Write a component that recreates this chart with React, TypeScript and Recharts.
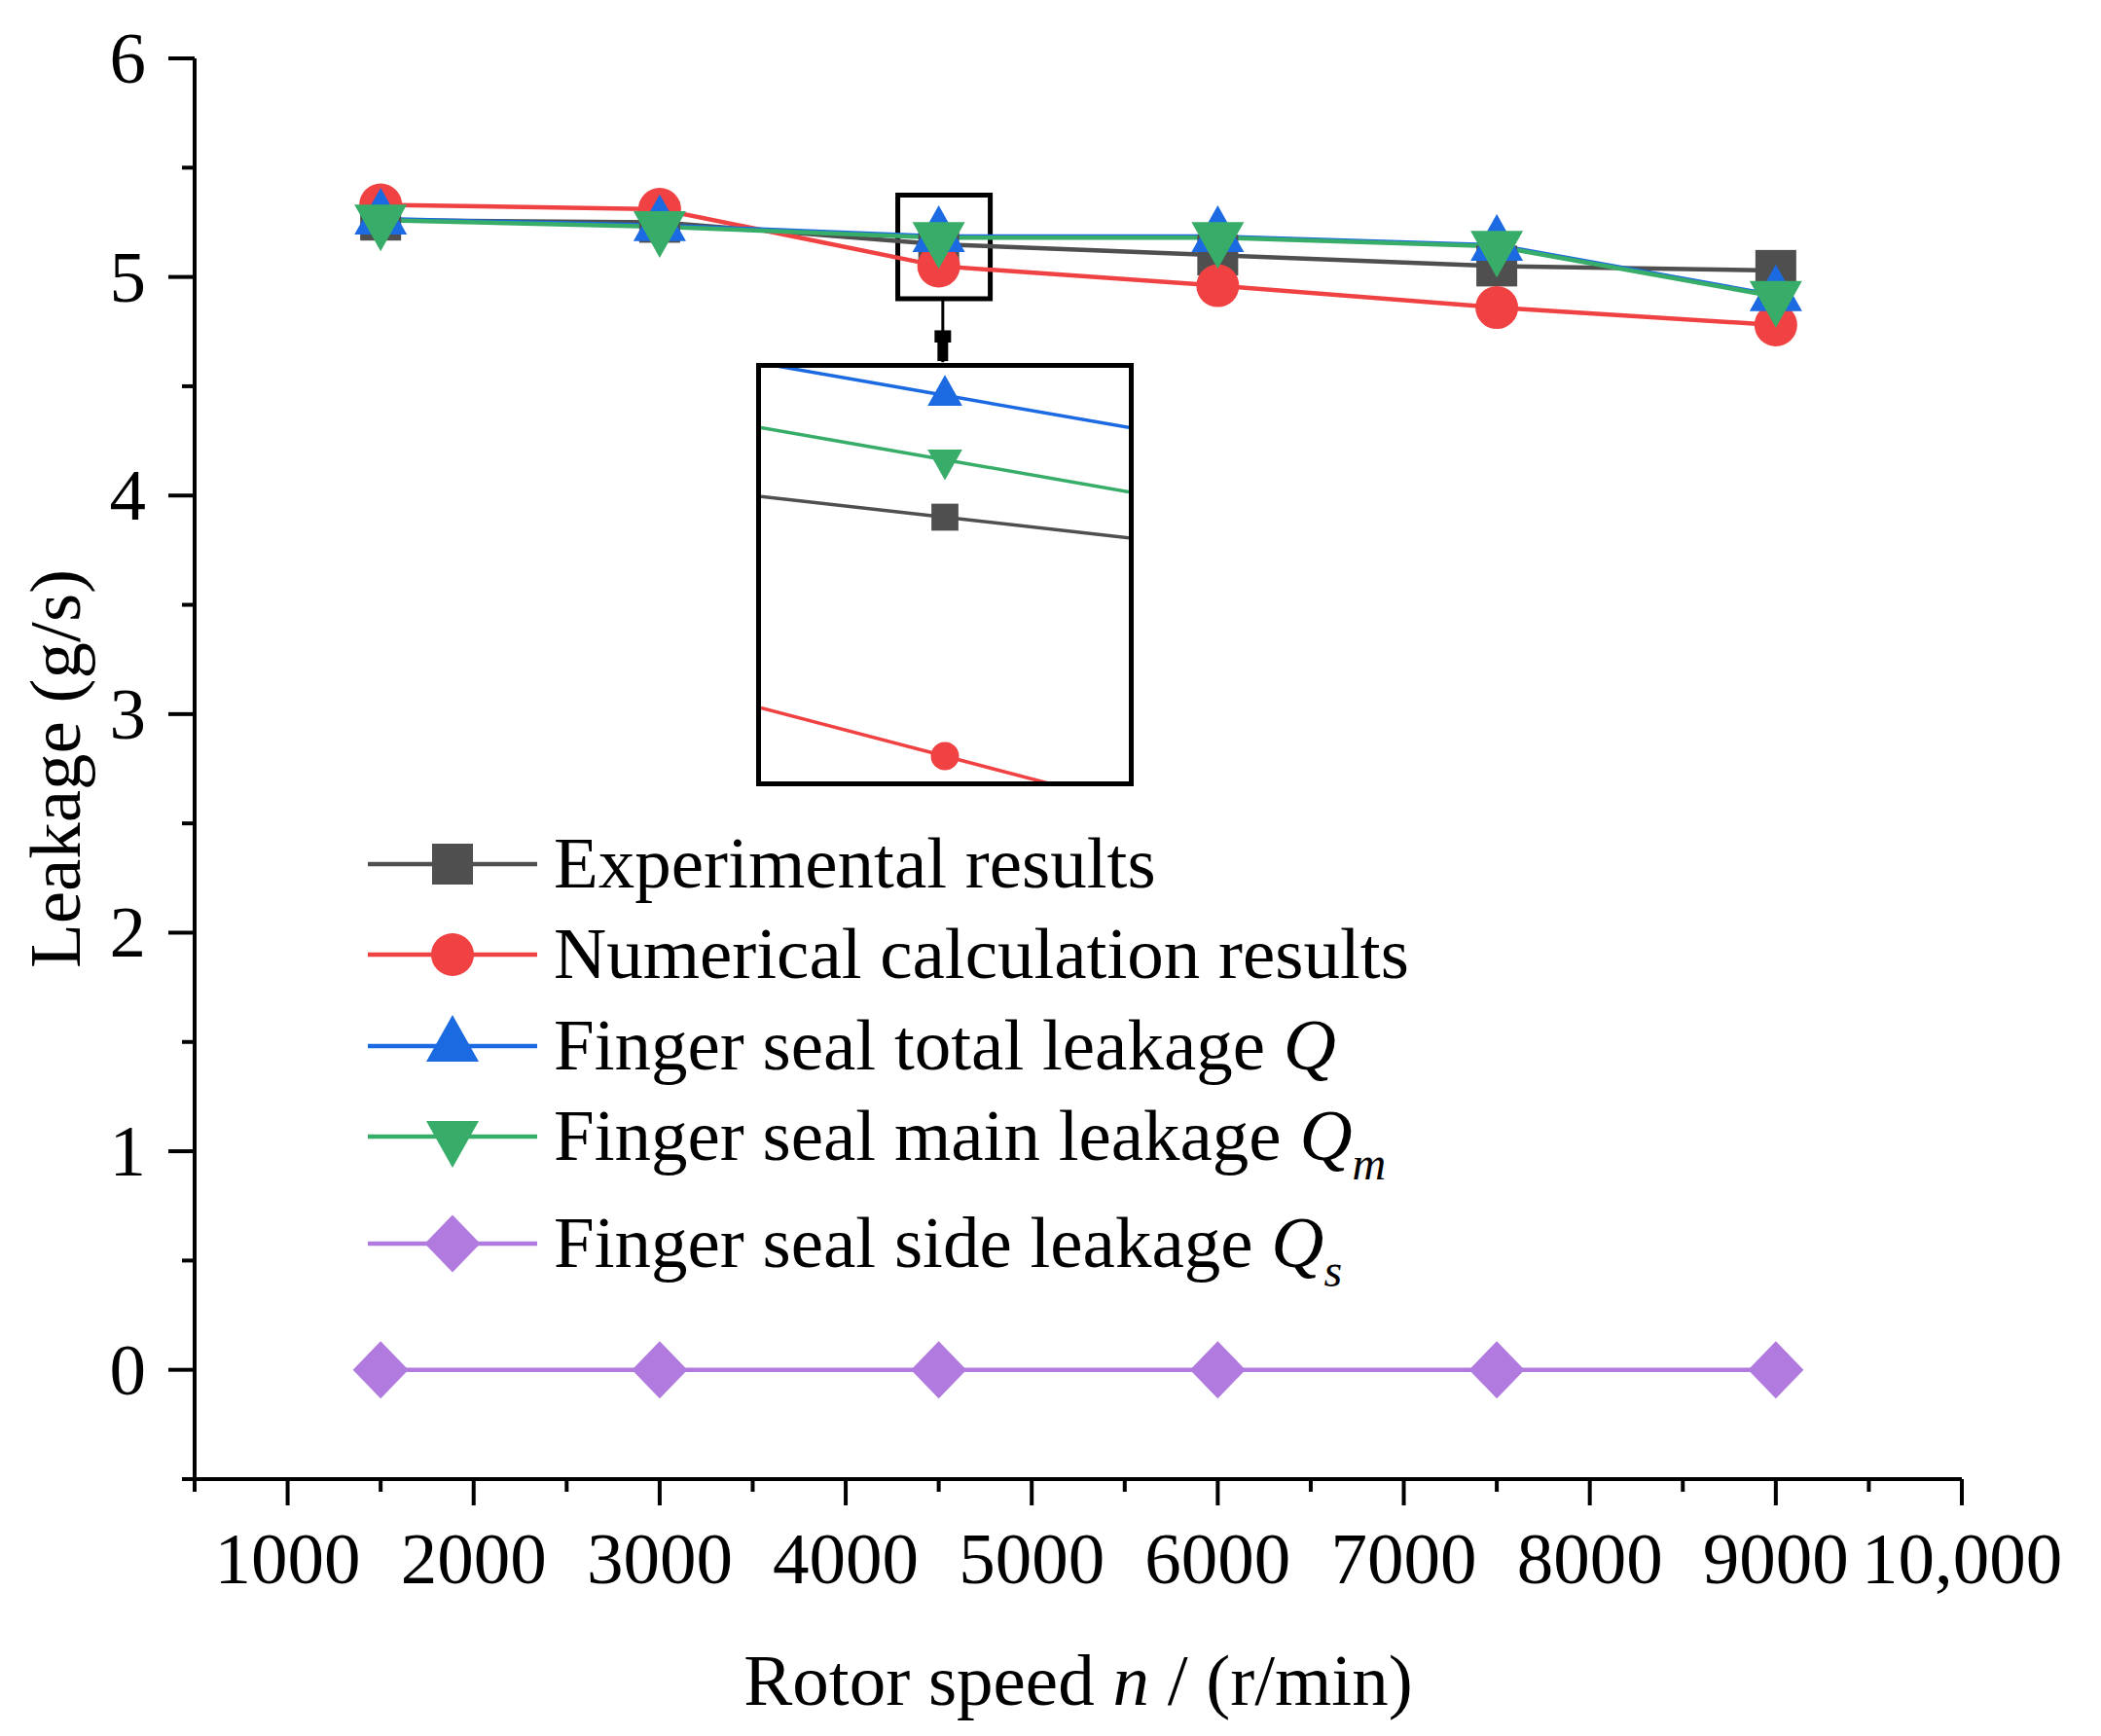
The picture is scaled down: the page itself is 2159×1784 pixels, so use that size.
import React from "react";
import {
  LineChart,
  Line,
  XAxis,
  YAxis,
  ReferenceArea,
  ReferenceLine,
} from "recharts";

// rotor speed (r/min)
const speeds = [1500, 3000, 4500, 6000, 7500, 9000];

// leakage (g/s)
const experimental = [5.26, 5.25, 5.15, 5.1, 5.05, 5.03];
const numerical = [5.33, 5.31, 5.05, 4.96, 4.86, 4.78];
const totalQ = [5.265, 5.235, 5.185, 5.185, 5.145, 4.915];
const mainQm = [5.26, 5.23, 5.18, 5.18, 5.14, 4.91];
const sideQs = [0, 0, 0, 0, 0, 0];

// zoomed inset around 4500 r/min
const insetSpeeds = [4250, 4500, 4750];
const insetExperimental = [5.164, 5.155, 5.146];
const insetNumerical = [5.072, 5.051, 5.03];
const insetTotal = [5.222, 5.208, 5.194];
const insetMain = [5.194, 5.18, 5.166];

const xTicks = [
  500, 1000, 1500, 2000, 2500, 3000, 3500, 4000, 4500, 5000, 5500, 6000,
  6500, 7000, 7500, 8000, 8500, 9000, 9500, 10000,
];
const yTicks = [-0.5, 0, 0.5, 1, 1.5, 2, 2.5, 3, 3.5, 4, 4.5, 5, 5.5, 6];

const FONT = "'Liberation Serif', 'Times New Roman', serif";

const COLORS = {
  exp: "#4f4f4f",
  num: "#f04242",
  total: "#1b6ae1",
  main: "#38ad69",
  side: "#b07ade",
};

const data = speeds.map((s, i) => ({
  speed: s,
  exp: experimental[i],
  num: numerical[i],
  total: totalQ[i],
  main: mainQm[i],
  side: sideQs[i],
}));

const insetData = insetSpeeds.map((s, i) => ({
  speed: s,
  exp: insetExperimental[i],
  num: insetNumerical[i],
  total: insetTotal[i],
  main: insetMain[i],
}));

type Shape = "square" | "circle" | "up" | "down" | "diamond";

const Marker = ({
  shape,
  cx,
  cy,
  color,
  k = 1,
}: {
  shape: Shape;
  cx: number;
  cy: number;
  color: string;
  k?: number;
}) => {
  if (shape === "square") {
    const s = 42 * k;
    return <rect x={cx - s / 2} y={cy - s / 2} width={s} height={s} fill={color} />;
  }
  if (shape === "circle") {
    return <circle cx={cx} cy={cy} r={22 * k} fill={color} />;
  }
  if (shape === "up") {
    const w = 54 * k;
    const h = 48 * k;
    return (
      <polygon
        points={`${cx},${cy - (2 * h) / 3} ${cx - w / 2},${cy + h / 3} ${cx + w / 2},${cy + h / 3}`}
        fill={color}
      />
    );
  }
  if (shape === "down") {
    const w = 54 * k;
    const h = 48 * k;
    return (
      <polygon
        points={`${cx - w / 2},${cy - h / 3} ${cx + w / 2},${cy - h / 3} ${cx},${cy + (2 * h) / 3}`}
        fill={color}
      />
    );
  }
  const w = 57 * k;
  const h = 59 * k;
  return (
    <polygon
      points={`${cx},${cy - h / 2} ${cx + w / 2},${cy} ${cx},${cy + h / 2} ${cx - w / 2},${cy}`}
      fill={color}
    />
  );
};

const dotFor = (shape: Shape, color: string) => (p: any) => (
  <Marker key={`d-${shape}-${p.index}`} shape={shape} cx={p.cx} cy={p.cy} color={color} />
);

// inset only shows the marker in the middle
const insetDot = (shape: Shape, color: string) => (p: any) =>
  p.index === 1 ? (
    <Marker key={`i-${shape}-${p.index}`} shape={shape} cx={p.cx} cy={p.cy} color={color} k={0.66} />
  ) : (
    <g key={`i-${shape}-${p.index}`} />
  );

const XTick = ({ x, y, payload }: any) => {
  const v = payload.value;
  const major = v % 1000 === 0;
  return (
    <g>
      <line x1={x} x2={x} y1={y} y2={y + (major ? 27 : 13)} stroke="#000" strokeWidth={4} />
      {major && (
        <text x={x} y={y + 107} textAnchor="middle" fontFamily={FONT} fontSize={75} fill="#000">
          {v === 10000 ? "10,000" : String(v)}
        </text>
      )}
    </g>
  );
};

const YTick = ({ x, y, payload }: any) => {
  const v = payload.value;
  const major = Number.isInteger(v);
  return (
    <g>
      <line x1={x} x2={x - (major ? 27 : 13)} y1={y} y2={y} stroke="#000" strokeWidth={4} />
      {major && (
        <text x={x - 50} y={y + 25} textAnchor="end" fontFamily={FONT} fontSize={75} fill="#000">
          {v}
        </text>
      )}
    </g>
  );
};

const legendRows: { label: React.ReactNode; color: string; shape: Shape; y: number }[] = [
  { label: "Experimental results", color: COLORS.exp, shape: "square", y: 888 },
  { label: "Numerical calculation results", color: COLORS.num, shape: "circle", y: 981 },
  {
    label: (
      <>
        Finger seal total leakage <tspan fontStyle="italic">Q</tspan>
      </>
    ),
    color: COLORS.total,
    shape: "up",
    y: 1075,
  },
  {
    label: (
      <>
        Finger seal main leakage <tspan fontStyle="italic">Q</tspan>
        <tspan fontStyle="italic" fontSize={48} dy={20}>
          m
        </tspan>
      </>
    ),
    color: COLORS.main,
    shape: "down",
    y: 1168,
  },
  {
    label: (
      <>
        Finger seal side leakage <tspan fontStyle="italic">Q</tspan>
        <tspan fontStyle="italic" fontSize={48} dy={20}>
          s
        </tspan>
      </>
    ),
    color: COLORS.side,
    shape: "diamond",
    y: 1278,
  },
];

const App = () => (
  <div style={{ position: "absolute", left: 0, top: 0, width: 2159, height: 1784, background: "#fff" }}>
    <LineChart
      width={2159}
      height={1784}
      data={data}
      margin={{ top: 60, right: 143, bottom: 0, left: 0 }}
    >
      <XAxis
        dataKey="speed"
        type="number"
        domain={[500, 10000]}
        ticks={xTicks}
        interval={0}
        tick={<XTick />}
        tickLine={false}
        tickSize={0}
        tickMargin={0}
        axisLine={{ stroke: "#000", strokeWidth: 4 }}
        height={264}
      />
      <YAxis
        type="number"
        domain={[-0.5, 6]}
        ticks={yTicks}
        interval={0}
        tick={<YTick />}
        tickLine={false}
        tickSize={0}
        tickMargin={0}
        axisLine={{ stroke: "#000", strokeWidth: 4 }}
        width={200}
      />
      <ReferenceArea
        x1={4280}
        x2={4777}
        y1={4.9}
        y2={5.374}
        fill="none"
        stroke="#000"
        strokeWidth={5}
        ifOverflow="visible"
      />
      <ReferenceLine
        segment={[
          { x: 4522, y: 4.9 },
          { x: 4522, y: 4.61 },
        ]}
        stroke="#000"
        strokeWidth={3}
        ifOverflow="visible"
      />
      <ReferenceLine
        segment={[
          { x: 4522, y: 4.756 },
          { x: 4522, y: 4.7 },
        ]}
        stroke="#000"
        strokeWidth={17}
        ifOverflow="visible"
      />
      <ReferenceLine
        segment={[
          { x: 4522, y: 4.7 },
          { x: 4522, y: 4.615 },
        ]}
        stroke="#000"
        strokeWidth={11}
        ifOverflow="visible"
      />
      <Line dataKey="exp" stroke={COLORS.exp} strokeWidth={4.5} dot={dotFor("square", COLORS.exp)} activeDot={false} isAnimationActive={false} />
      <Line dataKey="num" stroke={COLORS.num} strokeWidth={4.5} dot={dotFor("circle", COLORS.num)} activeDot={false} isAnimationActive={false} />
      <Line dataKey="total" stroke={COLORS.total} strokeWidth={4.5} dot={dotFor("up", COLORS.total)} activeDot={false} isAnimationActive={false} />
      <Line dataKey="main" stroke={COLORS.main} strokeWidth={4.5} dot={dotFor("down", COLORS.main)} activeDot={false} isAnimationActive={false} />
      <Line dataKey="side" stroke={COLORS.side} strokeWidth={4.5} dot={dotFor("diamond", COLORS.side)} activeDot={false} isAnimationActive={false} />
    </LineChart>

    {/* titles and legend */}
    <svg
      width={2159}
      height={1784}
      style={{ position: "absolute", left: 0, top: 0, pointerEvents: "none" }}
    >
      <text
        x={82}
        y={790}
        transform="rotate(-90, 82, 790)"
        textAnchor="middle"
        fontFamily={FONT}
        fontSize={75}
        fill="#000"
      >
        Leakage (g/s)
      </text>
      <text x={1108} y={1752} textAnchor="middle" fontFamily={FONT} fontSize={75} fill="#000">
        Rotor speed <tspan fontStyle="italic">n</tspan> / (r/min)
      </text>
      {legendRows.map((r, i) => (
        <g key={`lg-${i}`}>
          <line x1={378} x2={552} y1={r.y} y2={r.y} stroke={r.color} strokeWidth={4.5} />
          <Marker shape={r.shape} cx={465} cy={r.y} color={r.color} />
          <text x={569} y={r.y + 24} fontFamily={FONT} fontSize={75} fill="#000">
            {r.label}
          </text>
        </g>
      ))}
    </svg>

    {/* zoomed inset */}
    <div
      style={{
        position: "absolute",
        left: 777,
        top: 373,
        width: 388,
        height: 435,
        boxSizing: "border-box",
        border: "5px solid #000",
        background: "#fff",
      }}
    >
      <LineChart width={378} height={425} data={insetData} margin={{ top: 0, right: 0, bottom: 0, left: 0 }}>
        <XAxis dataKey="speed" type="number" domain={[4250, 4750]} allowDataOverflow hide />
        <YAxis type="number" domain={[5.04, 5.22]} allowDataOverflow hide />
        <Line dataKey="exp" stroke={COLORS.exp} strokeWidth={3.5} dot={insetDot("square", COLORS.exp)} activeDot={false} isAnimationActive={false} />
        <Line dataKey="num" stroke={COLORS.num} strokeWidth={3.5} dot={insetDot("circle", COLORS.num)} activeDot={false} isAnimationActive={false} />
        <Line dataKey="total" stroke={COLORS.total} strokeWidth={3.5} dot={insetDot("up", COLORS.total)} activeDot={false} isAnimationActive={false} />
        <Line dataKey="main" stroke={COLORS.main} strokeWidth={3.5} dot={insetDot("down", COLORS.main)} activeDot={false} isAnimationActive={false} />
      </LineChart>
    </div>
  </div>
);

export default App;
